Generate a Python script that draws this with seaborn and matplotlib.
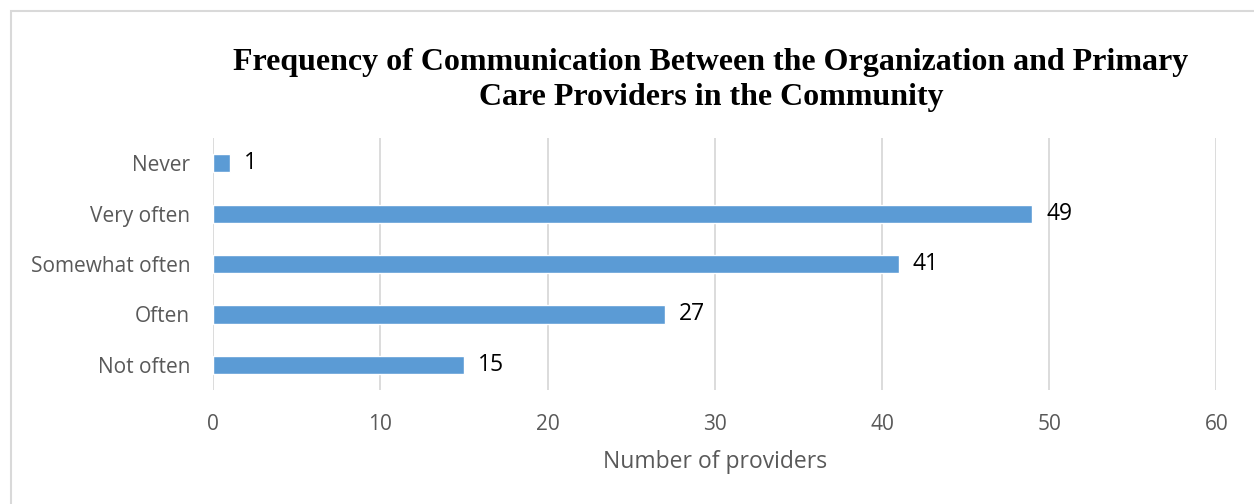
import pandas as pd
import matplotlib.pyplot as plt
import seaborn as sns
from matplotlib.patches import Rectangle

# Datos del grafico
categorias = ['Never', 'Very often', 'Somewhat often', 'Often', 'Not often']
proveedores = [1, 49, 41, 27, 15]
marcas_x = [0, 10, 20, 30, 40, 50, 60]

df = pd.DataFrame({'Frecuencia': categorias, 'Proveedores': proveedores})

sns.set_style('white')
plt.rcParams['font.family'] = ['Open Sans', 'DejaVu Sans']

fig = plt.figure(figsize=(12.54, 5.04), dpi=100)
ax = fig.add_axes([0.170, 0.226, 0.800, 0.500])

sns.barplot(data=df, x='Proveedores', y='Frecuencia', order=categorias,
            color='#5B9BD5', saturation=1, width=0.36, ax=ax)

# etiquetas de valor
for cont in ax.containers:
    ax.bar_label(cont, padding=10, fontsize=16.5, color='#000000')

ax.set_xlim(0, 60)
ax.set_ylim(4.5, -0.5)
ax.set_xticks(marcas_x)
ax.grid(axis='x', color='#D9D9D9', linewidth=1.3)
ax.set_axisbelow(True)
for s in ax.spines.values():
    s.set_visible(False)
ax.tick_params(axis='both', length=0, labelsize=15, colors='#595959')
ax.tick_params(axis='x', pad=17)
ax.tick_params(axis='y', pad=16.5)
ax.set_ylabel('')
ax.set_xlabel('Number of providers', fontsize=16.5, color='#595959', labelpad=11)

fig.text(0.567, 0.842, 'Frequency of Communication Between the Organization and Primary\nCare Providers in the Community',
         ha='center', va='center', fontsize=23, fontweight='bold', color='black',
         family='Liberation Serif', linespacing=1.27)

# borde exterior
fig.patches.append(Rectangle((11 / 1254, -0.1), 1.2, 1 - 11 / 504 + 0.1,
                             transform=fig.transFigure, fill=False,
                             edgecolor='#D9D9D9', linewidth=1.5))

fig.savefig('out.png', dpi=100)
